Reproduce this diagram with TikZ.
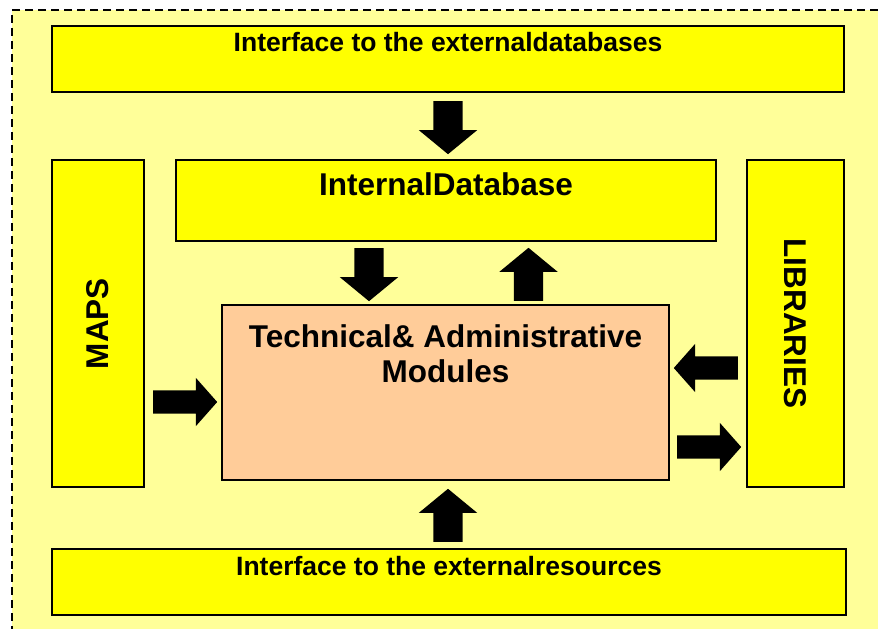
\documentclass[tikz,border=0pt]{standalone}
\usepackage{fontspec}
\setmainfont{Liberation Sans}
\usetikzlibrary{positioning,shapes.arrows}
\definecolor{paper}{HTML}{FFFF99}
\definecolor{boxyellow}{HTML}{FFFF00}
\definecolor{modpeach}{HTML}{FFCC99}
\tikzset{
  panel/.style={draw=black, line width=1.6pt, fill=boxyellow, inner sep=0pt},
  smalltext/.style={font=\bfseries\fontsize{26.5}{30}\selectfont, inner sep=0pt},
  bigtext/.style={font=\bfseries\fontsize{31.5}{35}\selectfont, inner sep=0pt, align=center},
  fatarrow/.style={single arrow, fill=black, draw=none, inner xsep=0pt, inner ysep=14.5pt,
    single arrow head extend=14.5pt, single arrow tip angle=101,
    single arrow head indent=0pt, minimum height=53pt, anchor=tail},
  sidearrow/.style={fatarrow, inner ysep=11.5pt, single arrow head extend=12.5pt,
    single arrow tip angle=97, minimum height=64pt}
}
\begin{document}
\begin{tikzpicture}[x=1pt, y=-1pt]
\useasboundingbox (0,0) rectangle (878,629);
\fill[paper] (12,10) rectangle (878,629);
\draw[line width=2pt, dash pattern=on 8pt off 5pt] (878,10) -- (12,10) -- (12,629);

\node[panel, minimum width=792pt, minimum height=66pt] (extdb) at (448,59) {};
\node[smalltext, below=6.5pt of extdb.north] (extdb-text) {Interface to the externaldatabases};

\node[panel, minimum width=540pt, minimum height=81pt] (intdb) at (446,200.5) {};
\node[bigtext, below=13pt of intdb.north] (intdb-text) {InternalDatabase};

\node[panel, fill=modpeach, minimum width=447pt, minimum height=175pt] (modules) at (445.5,392.5) {};
\node[bigtext, below=20pt of modules.north] (modules-text) {Technical\& Administrative\\Modules};

\node[panel, minimum width=92pt, minimum height=327pt] (maps) at (98,323.5) {};
\node[bigtext, rotate=90] (maps-text) at (maps.center) {MAPS};

\node[panel, minimum width=97pt, minimum height=327pt] (libs) at (795.5,323.5) {};
\node[bigtext, rotate=-90] (libs-text) at (libs.center) {LIBRARIES};

\node[panel, minimum width=794pt, minimum height=66pt] (extres) at (449,582) {};
\node[smalltext, below=7.5pt of extres.north] (extres-text) {Interface to the externalresources};

\node[fatarrow, rotate=-90] (dbin) at (448,101) {};
\node[fatarrow, rotate=-90] (dbdown) at (369,248) {};
\node[fatarrow, rotate=90] (dbup) at (528.5,301) {};
\node[fatarrow, rotate=90] (resin) at (448,542) {};
\node[sidearrow] (mapsin) at (153,402) {};
\node[sidearrow, rotate=180] (libsin) at (738,368) {};
\node[sidearrow] (libsout) at (677,447) {};
\end{tikzpicture}
\end{document}
